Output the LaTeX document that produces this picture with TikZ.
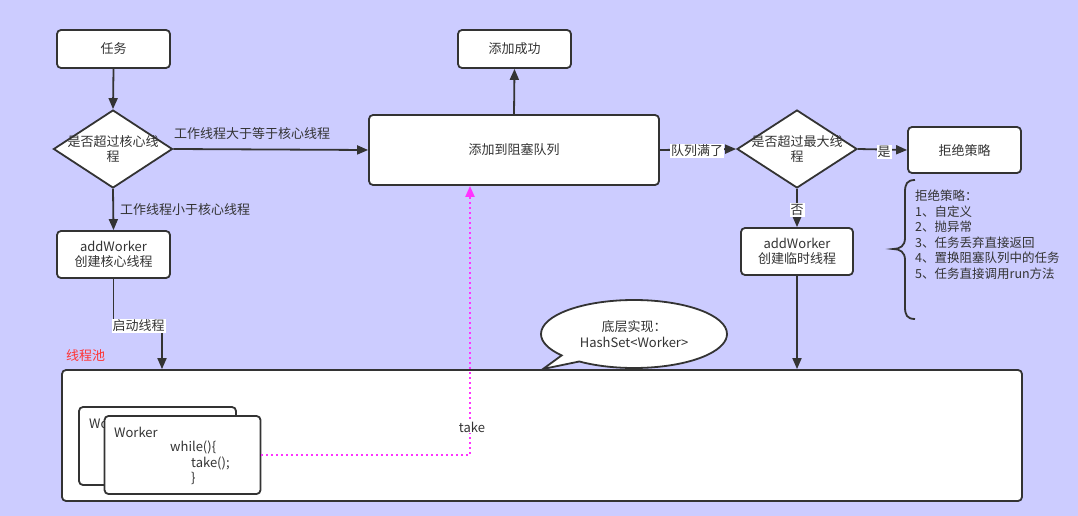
\documentclass[tikz,border=0pt]{standalone}
\usepackage{fontspec}
\setmainfont{Noto Sans CJK SC}
\usetikzlibrary{shapes.geometric,shapes.callouts,arrows.meta}
\definecolor{bg}{HTML}{CCCCFF}
\definecolor{ln}{HTML}{333333}
\definecolor{mag}{HTML}{FF33FF}
\definecolor{poolred}{HTML}{FF3333}
\begin{document}
\begin{tikzpicture}[x=1pt,y=-1pt,
  font=\fontsize{13}{15.5}\selectfont, text=ln,
  box/.style={draw=ln, line width=1.8pt, fill=white, rounded corners=4pt, inner sep=0pt, align=center},
  dia/.style={diamond, draw=ln, line width=1.8pt, fill=white, inner sep=0pt, minimum width=119pt, minimum height=78pt},
  arr/.style={draw=ln, line width=1.8pt, -{Triangle[length=11pt,width=9pt]}},
  lbl/.style={fill=white, inner sep=1pt},
  plain/.style={inner sep=0pt}]
\useasboundingbox (0,0) rectangle (1078,516);
\fill[bg] (0,0) rectangle (1078,516);

% top nodes
\node[box, minimum width=113pt, minimum height=38pt] (task) at (113.5,49) {任务};
\node[dia] (d1) at (113,149) {};
\node[plain, align=center] (d1t) at (113,149) {是否超过核心线\\程};
\node[box, minimum width=113pt, minimum height=47pt] (core) at (113.5,254.5) {addWorker\\创建核心线程};
\node[box, minimum width=290pt, minimum height=70pt] (queue) at (514,150) {添加到阻塞队列};
\node[box, minimum width=113pt, minimum height=38pt] (succ) at (514.5,49) {添加成功};
\node[dia, minimum width=120pt] (d2) at (797,149) {};
\node[plain, align=center] (d2t) at (797,149) {是否超过最大线\\程};
\node[box, minimum width=113pt, minimum height=46pt] (reject) at (964.5,150) {拒绝策略};
\node[box, minimum width=112pt, minimum height=47pt] (temp) at (797,251.5) {addWorker\\创建临时线程};

% pool
\node[plain, text=poolred, anchor=west] (pooll) at (66,356) {线程池};
\node[box, minimum width=960pt, minimum height=131pt] (pool) at (542,435.5) {};
\node[box, minimum width=157pt, minimum height=78pt] (wb) at (157.5,446) {};
\node[plain, anchor=west] (wbt) at (89,423) {Worker};
\node[box, minimum width=156pt, minimum height=78pt] (wf) at (182.5,455) {};
\node[plain, anchor=west] (wf1) at (114,432) {Worker};
\node[plain, anchor=west] (wf2) at (170,447.5) {while()\{};
\node[plain, anchor=west] (wf3) at (191,463) {take();};
\node[plain, anchor=west] (wf4) at (191,478.5) {\}};

% connectors
\draw[arr] (task.south) -- (d1.north);
\draw[arr] (d1.east) -- (queue.west);
\node[plain, anchor=west] (l1) at (174,134) {工作线程大于等于核心线程};
\draw[arr] (d1.south) -- (core.north);
\node[plain, anchor=west] (l2) at (120,210) {工作线程小于核心线程};
\draw[arr] (queue.north) -- (succ.south);
\draw[arr] (queue.east) -- (d2.west);
\node[lbl] (l3) at (697,151) {队列满了};
\draw[arr] (d2.east) -- (reject.west);
\node[lbl] (l4) at (884,152) {是};
\draw[arr] (d2.south) -- (temp.north);
\node[lbl] (l5) at (797,210) {否};
\draw[arr] (temp.south) -- (temp.south |- pool.north);
\coordinate (k1) at (162,326);
\draw[arr] (core.south) |- (k1) -- (k1 |- pool.north);
\node[lbl] (l6) at (138.5,326) {启动线程};

% take
\coordinate (t1) at (470,455);
\draw[mag, line width=2pt, dash pattern=on 2pt off 3pt, -{Triangle[length=11pt,width=9pt]}] (wf.east) -- (t1) -- (queue.south -| t1);
\node[lbl] (l7) at (472,427) {take};

% callout
\node[ellipse callout, draw=ln, line width=1.8pt, fill=white, minimum width=186pt, minimum height=68pt, inner sep=0pt, align=center, callout absolute pointer={(543,369)}] (bub) at (634,334) {底层实现：\\HashSet<Worker>};

% brace
\draw[ln, line width=1.8pt] (915,180) .. controls (907,180) and (905,184) .. (905,192) -- (905,238) .. controls (905,246) and (900,249) .. (893,249) .. controls (900,249) and (905,252) .. (905,260) -- (905,307) .. controls (905,315) and (907,319) .. (915,319);
\node[plain, anchor=north west, align=left, font=\fontsize{12.5}{15.5}\selectfont] (rl) at (915,190) {拒绝策略：\\1、自定义\\2、抛异常\\3、任务丢弃直接返回\\4、置换阻塞队列中的任务\\5、任务直接调用run方法};
\end{tikzpicture}
\end{document}
